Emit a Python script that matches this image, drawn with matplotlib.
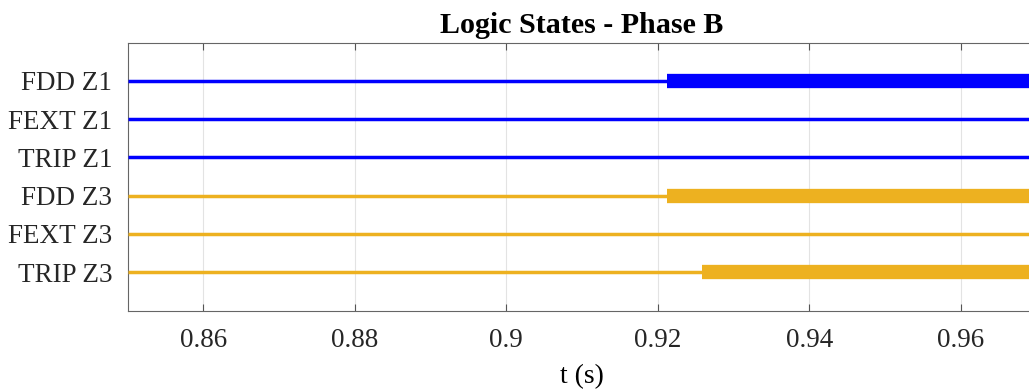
import matplotlib
matplotlib.use("Agg")
import matplotlib.pyplot as plt
import numpy as np

plt.rcParams['font.family'] = ['Liberation Serif', 'DejaVu Serif']

signals = ["FDD Z1", "FEXT Z1", "TRIP Z1", "FDD Z3", "FEXT Z3", "TRIP Z3"]
colors = ["#0000FF", "#0000FF", "#0000FF", "#EDB120", "#EDB120", "#EDB120"]
# time at which the signal goes high (None = stays low)
t_on = [0.9212, None, None, 0.9212, None, 0.9259]
t_start = 0.85
t_end = 0.97
xticks = [0.86, 0.88, 0.90, 0.92, 0.94, 0.96]
xtick_labels = ["0.86", "0.88", "0.9", "0.92", "0.94", "0.96"]

W, H = 1029, 390
fig = plt.figure(figsize=(W/100, H/100), dpi=100)
left = 127.6 / W
bottom = 1 - 310.5 / H
top = 1 - 42.5 / H
px_per_unit = 7574.0
width = (t_end - t_start) * px_per_unit / W
ax = fig.add_axes([left, bottom, width, top - bottom])

n = len(signals)
for i, (name, c, ton) in enumerate(zip(signals, colors, t_on)):
    y = i + 1
    if ton is None:
        ax.plot([t_start, t_end], [y, y], color=c, lw=2.5, solid_capstyle='butt', zorder=3)
    else:
        ax.plot([t_start, ton], [y, y], color=c, lw=2.5, solid_capstyle='butt', zorder=3)
        ax.plot([ton, t_end], [y, y], color=c, lw=10.3, solid_capstyle='butt', zorder=3)

ax.set_xlim(t_start, t_end)
ax.set_ylim(n + 1, 0)
ax.set_yticks(np.arange(1, n + 1))
ax.set_yticklabels(signals, fontsize=19.5)
ax.set_xticks(xticks)
ax.set_xticklabels(xtick_labels, fontsize=19.5)
ax.tick_params(axis='x', direction='in', length=5, width=0.8, color='#555555', top=True, pad=12.5)
ax.tick_params(axis='y', direction='in', length=0, pad=11)
ax.grid(True, axis='x', color='#e3e3e3', lw=0.8, zorder=0)
for s in ['top', 'left', 'bottom']:
    ax.spines[s].set_color('#666666')
    ax.spines[s].set_linewidth(0.8)
ax.spines['right'].set_visible(False)
ax.set_xlabel("t (s)", fontsize=20, labelpad=8)
ax.set_title("Logic States - Phase B", fontsize=21.6, fontweight='bold', pad=7)
for lbl in ax.get_xticklabels() + ax.get_yticklabels():
    lbl.set_color('#262626')

fig.savefig("out.png", dpi=100)
